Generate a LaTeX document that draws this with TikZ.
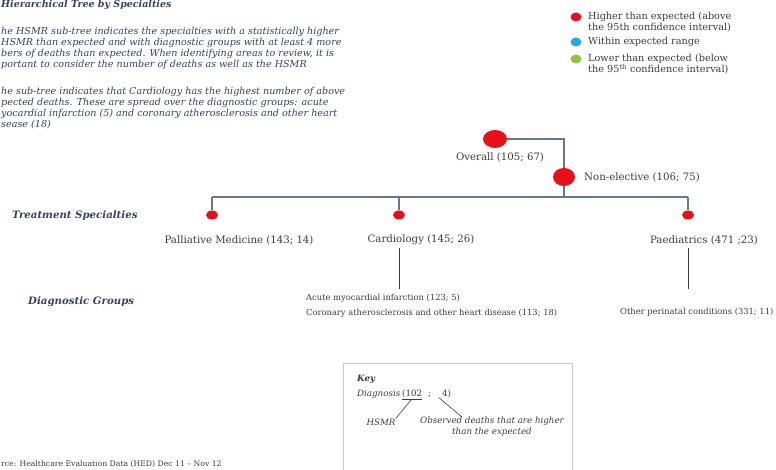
\documentclass[tikz,border=0pt]{standalone}
\usepackage{fontspec}
\setmainfont{DejaVu Serif}
\usetikzlibrary{shapes.geometric}
\definecolor{paraC}{RGB}{52,66,98}
\definecolor{txtC}{RGB}{60,60,60}
\definecolor{lineC}{RGB}{100,120,148}
\definecolor{dotR}{RGB}{232,16,24}
\definecolor{dotB}{RGB}{40,166,222}
\definecolor{dotG}{RGB}{140,198,64}
\definecolor{keyC}{RGB}{200,200,200}
\tikzset{
  para/.style={anchor=base west, inner sep=0pt, font=\fontsize{9.6}{11}\selectfont\itshape, text=paraC},
  head/.style={anchor=base west, inner sep=0pt, font=\fontsize{10.2}{11}\selectfont\bfseries\itshape, text=paraC},
  lbl/.style={inner sep=0pt, font=\fontsize{10.2}{12}\selectfont, text=txtC},
  dg/.style={anchor=base west, inner sep=0pt, font=\fontsize{8.35}{10}\selectfont, text=txtC},
  leg/.style={anchor=base west, inner sep=0pt, font=\fontsize{9.7}{11}\selectfont, text=txtC},
  kt/.style={inner sep=0pt, font=\fontsize{8.7}{11}\selectfont\itshape, text=txtC},
  bigdot/.style={ellipse, fill=dotR, draw=none, minimum width=24pt, minimum height=18pt, inner sep=0pt},
  smalldot/.style={ellipse, fill=dotR, draw=none, minimum width=12pt, minimum height=9pt, inner sep=0pt},
  legdot/.style={ellipse, draw=none, minimum width=11pt, minimum height=9pt, inner sep=0pt},
  tree/.style={draw=lineC, line width=1.1pt},
  vline/.style={draw=txtC, line width=0.8pt},
  keyline/.style={draw=txtC, line width=0.6pt}
}
\begin{document}
\begin{tikzpicture}[x=1pt,y=-1pt]
\useasboundingbox (0,0) rectangle (776,470);
\fill[white] (0,0) rectangle (776,470);
\clip (0,0) rectangle (776,470);

% title
\node[head, font=\fontsize{9.5}{11}\selectfont\bfseries\itshape] (title) at (1,8) {Hierarchical Tree by Specialties};

% paragraphs
\node[para] (p1) at (1,35) {he HSMR sub-tree indicates the specialties with a statistically higher};
\node[para] (p2) at (1,46) {HSMR than expected and with diagnostic groups with at least 4 more};
\node[para] (p3) at (1,57) {bers of deaths than expected. When identifying areas to review, it is};
\node[para] (p4) at (1,68) {portant to consider the number of deaths as well as the HSMR};
\node[para] (p5) at (1,95) {he sub-tree indicates that Cardiology has the highest number of above};
\node[para] (p6) at (1,106) {pected deaths. These are spread over the diagnostic groups: acute};
\node[para] (p7) at (1,117) {yocardial infarction (5) and coronary atherosclerosis and other heart};
\node[para] (p8) at (1,128) {sease (18)};

% legend
\node[legdot, fill=dotR] (l1) at (576,17) {};
\node[leg] (lt1) at (588,20) {Higher than expected (above};
\node[leg] (lt1b) at (588,31) {the 95th confidence interval)};
\node[legdot, fill=dotB] (l2) at (576,42) {};
\node[leg] (lt2) at (588,45) {Within expected range};
\node[legdot, fill=dotG] (l3) at (576,59) {};
\node[leg] (lt3) at (588,62) {Lower than expected (below};
\node[leg] (lt3b) at (588,73) {the 95\textsuperscript{th} confidence interval)};

% tree
\node[bigdot] (ov) at (495,139) {};
\node[lbl] (ovl) at (500,157) {Overall (105; 67)};
\node[bigdot, minimum width=22pt] (ne) at (564,177) {};
\node[lbl, anchor=west] (nel) at (584,177) {Non-elective (106; 75)};
\coordinate (hl) at (212,197);
\coordinate (hr) at (688,197);
\coordinate (hm) at (564,197);
\draw[tree] (ov.east) -| (ne.north);
\draw[tree] (ne.south) -- (hm);
\draw[tree] (hl) -- (hr);

\node[smalldot] (pmd) at (212,215) {};
\node[smalldot] (cad) at (399,215) {};
\node[smalldot] (pad) at (688,215) {};
\draw[tree] (hl) -- (pmd.north);
\draw[tree] (cad|-hl) -- (cad.north);
\draw[tree] (hr) -- (pad.north);

\node[lbl] (pml) at (239,240) {Palliative Medicine (143; 14)};
\node[lbl] (cal) at (421,240) {Cardiology (145; 26)};
\node[lbl] (pal) at (704,240) {Paediatrics (471 ;23)};

\node[head] (ts) at (12,219) {Treatment Specialties};
\node[head] (dgl) at (28,305) {Diagnostic Groups};

\node[dg] (d1) at (306,300) {Acute myocardial infarction (123; 5)};
\node[dg] (d2) at (306,316) {Coronary atherosclerosis and other heart disease (113; 18)};
\node[dg] (d3) at (620,314) {Other perinatal conditions (331; 11)};
\coordinate (d1t) at (399,289);
\coordinate (d3t) at (688,289);
\draw[vline] (cad|-cal.south) ++(0,3) -- (d1t);
\draw[vline] (pad|-pal.south) ++(0,3) -- (d3t);

% key
\draw[draw=keyC, line width=0.7pt] (343,363) rectangle (572,485);
\node[kt, anchor=base west, font=\fontsize{8.7}{11}\selectfont\bfseries\itshape] (key) at (357,381) {Key};
\node[kt, anchor=base west] (kd) at (357,396) {Diagnosis};
\node[kt, anchor=base west, font=\fontsize{8.7}{11}\selectfont] (k102) at (kd.base east) {\,\underline{(102}};
\node[kt, anchor=base west, font=\fontsize{8.7}{11}\selectfont] (k4) at (k102.base east) {\ \ ;\ \ \ \ 4)};
\node[kt] (khsmr) at (381,422) {HSMR};
\node[kt, align=center] (kobs) at (492,427) {Observed deaths that are higher\\than the expected};
\draw[keyline] (k102.south) -- (khsmr.north east);
\draw[keyline] ([xshift=2pt]k4.south) -- ([xshift=-30pt]kobs.north);

% source
\node[dg, font=\fontsize{7.7}{9}\selectfont] (src) at (1,466) {rce: Healthcare Evaluation Data (HED) Dec 11 -- Nov 12};
\end{tikzpicture}
\end{document}
